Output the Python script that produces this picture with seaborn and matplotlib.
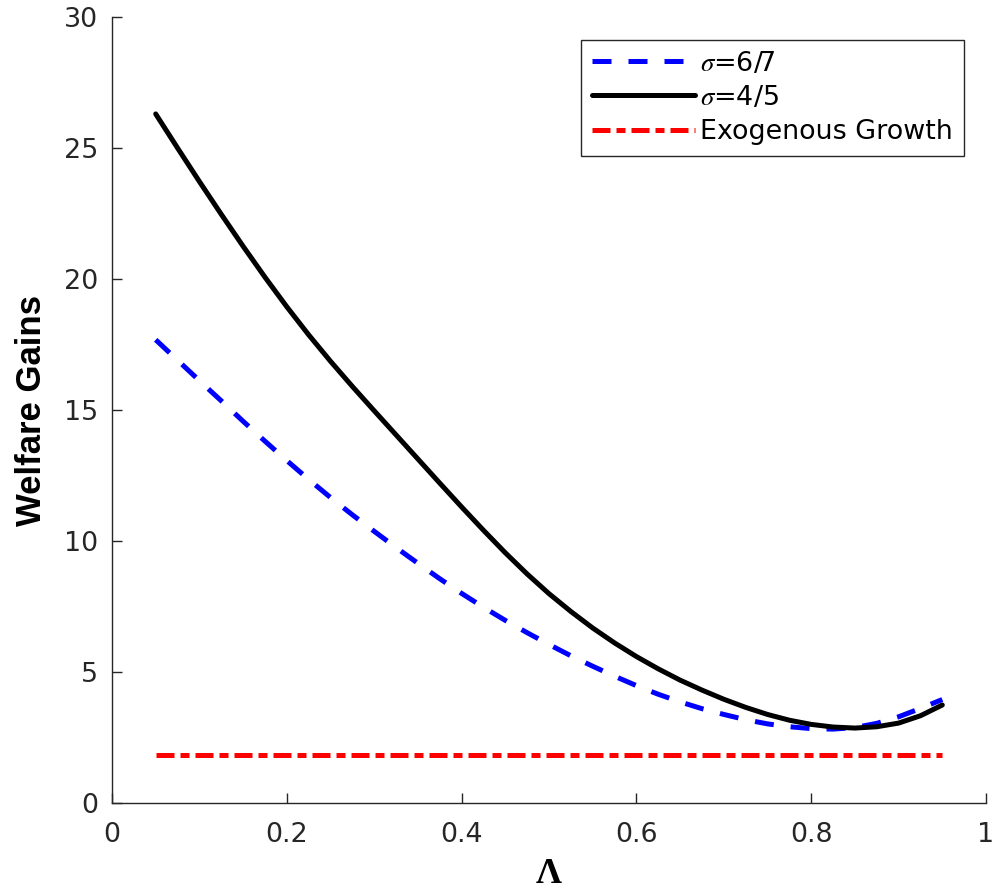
import numpy as np
import pandas as pd
import matplotlib
matplotlib.use("Agg")
import matplotlib.pyplot as plt
import seaborn as sns

# Share parameter Lambda
lam = [0.05, 0.075, 0.10, 0.125, 0.15, 0.175, 0.20, 0.225, 0.25, 0.275,
       0.30, 0.325, 0.35, 0.375, 0.40, 0.425, 0.45, 0.475, 0.50, 0.525,
       0.55, 0.575, 0.60, 0.625, 0.65, 0.675, 0.70, 0.725, 0.75, 0.775,
       0.80, 0.825, 0.85, 0.875, 0.90, 0.925, 0.95]

# Welfare gains, sigma = 6/7
gains_67 = [17.68, 16.90, 16.12, 15.35, 14.57, 13.81, 13.07, 12.35, 11.66, 11.00,
            10.37, 9.75, 9.15, 8.56, 8.00, 7.47, 6.97, 6.50, 6.05, 5.62,
            5.22, 4.84, 4.48, 4.15, 3.86, 3.60, 3.38, 3.18, 3.02, 2.91,
            2.84, 2.82, 2.88, 3.04, 3.29, 3.61, 3.95]

# Welfare gains, sigma = 4/5
gains_45 = [26.30, 25.00, 23.72, 22.47, 21.25, 20.07, 18.94, 17.87, 16.86, 15.90,
            14.97, 14.05, 13.13, 12.21, 11.30, 10.41, 9.55, 8.74, 7.99, 7.31,
            6.68, 6.11, 5.59, 5.12, 4.69, 4.31, 3.96, 3.65, 3.38, 3.16,
            3.00, 2.90, 2.86, 2.91, 3.05, 3.33, 3.74]

# Exogenous growth benchmark
lam_exo = [0.05, 0.95]
gains_exo = [1.82, 1.82]

series_labels = [r"$\sigma$=6/7", r"$\sigma$=4/5", "Exogenous Growth"]
x_ticks = [0, 0.2, 0.4, 0.6, 0.8, 1]
x_ticklabels = ["0", "0.2", "0.4", "0.6", "0.8", "1"]
y_ticks = [0, 5, 10, 15, 20, 25, 30]

sns.set_theme(style="ticks")
plt.rcParams["font.family"] = ["DejaVu Sans"]
plt.rcParams["mathtext.fontset"] = "stix"

axis_gray = "#262626"
W, H = 996, 893

fig = plt.figure(figsize=(W / 100, H / 100), dpi=100)
ax_l, ax_r, ax_t, ax_b = 112, 986, 17, 803
ax = fig.add_axes([ax_l / W, 1 - ax_b / H, (ax_r - ax_l) / W, (ax_b - ax_t) / H])

lw = 3.6
df_curves = pd.DataFrame({"lam": lam, "g67": gains_67, "g45": gains_45})
df_exo = pd.DataFrame({"lam": lam_exo, "g": gains_exo})

sns.lineplot(data=df_curves, x="lam", y="g67", ax=ax, color="#0000ff",
             lw=lw, label=series_labels[0])
ax.lines[-1].set_dashes((3.8, 3.4))
ax.lines[-1].set_dash_capstyle("butt")

sns.lineplot(data=df_curves, x="lam", y="g45", ax=ax, color="black",
             lw=lw, label=series_labels[1])
ax.lines[-1].set_solid_joinstyle("round")

sns.lineplot(data=df_exo, x="lam", y="g", ax=ax, color="#ff0000",
             lw=lw, label=series_labels[2])
ax.lines[-1].set_dashes((3.6, 1.2, 1.8, 1.2))
ax.lines[-1].set_dash_capstyle("butt")

ax.set_xlim(0, 1)
ax.set_ylim(0, 30)
ax.set_xticks(x_ticks)
ax.set_xticklabels(x_ticklabels)
ax.set_yticks(y_ticks)

sns.despine(ax=ax)
for side in ["left", "bottom"]:
    ax.spines[side].set_color(axis_gray)
    ax.spines[side].set_linewidth(1.0)

ax.tick_params(axis="both", direction="in", length=7.2, width=1.0,
               colors=axis_gray, labelsize=19.4)
ax.tick_params(axis="x", pad=14)
ax.tick_params(axis="y", pad=10)

# Axis titles, placed in axes-fraction coordinates
ax.set_ylabel("Welfare Gains", fontsize=25, fontweight="bold",
              family=["Liberation Sans", "DejaVu Sans"], color="black")
ax.yaxis.set_label_coords((48 - ax_l) / (ax_r - ax_l), 0.5)

ax.set_xlabel("Λ", fontsize=26, fontweight="bold",
              family=["Liberation Serif", "DejaVu Serif"], color="black")
ax.xaxis.set_label_coords(0.5, -(891 - ax_b) / (ax_b - ax_t))
ax.xaxis.label.set_verticalalignment("bottom")

leg = ax.legend(loc="upper right", bbox_to_anchor=(964 / W, 1 - 40 / H),
                bbox_transform=fig.transFigure, borderaxespad=0,
                fontsize=19.4, handlelength=3.8, handletextpad=0.22,
                borderpad=0.4, labelspacing=0.3, frameon=True,
                fancybox=False, shadow=False)
frame = leg.get_frame()
frame.set_edgecolor(axis_gray)
frame.set_linewidth(1.0)
frame.set_facecolor("white")
frame.set_alpha(1.0)
for txt in leg.get_texts():
    txt.set_color("black")

fig.savefig("out.png", dpi=100, facecolor="white")
